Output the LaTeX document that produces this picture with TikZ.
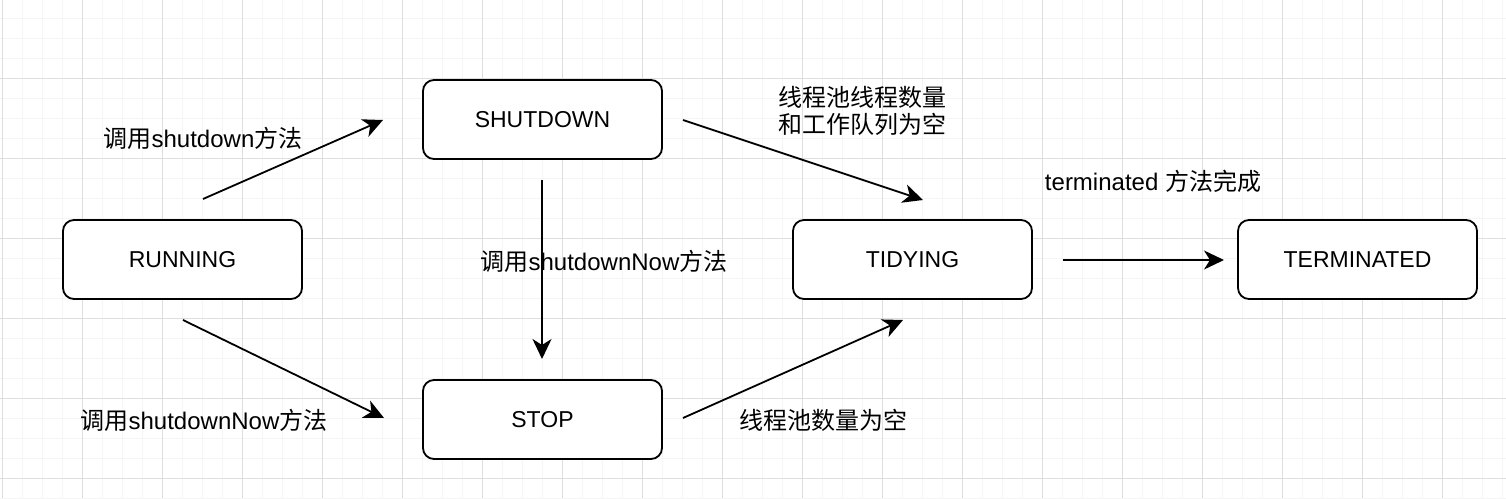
\documentclass[tikz,border=0pt]{standalone}
\usepackage{fontspec}
\setmainfont{Liberation Sans}
\newfontfamily\cjk{Noto Sans CJK SC}
\usetikzlibrary{arrows.meta}
\newcommand{\zh}[1]{{\cjk #1}}
\tikzset{
  box/.style={draw, line width=1.8pt, rounded corners=11pt, minimum width=239pt, minimum height=79pt, fill=white, inner sep=0pt, font=\fontsize{23}{28}\selectfont},
  lbl/.style={inner sep=0pt, align=center, font=\fontsize{24}{27}\selectfont},
  conn/.style={line width=1.8pt, -{Stealth[length=20pt, width=19pt, inset=6pt]}},
  minorgrid/.style={line width=1pt, draw={rgb,255:red,245;green,245;blue,245}},
  majorgrid/.style={line width=1pt, draw={rgb,255:red,222;green,222;blue,222}}
}
\begin{document}
\begin{tikzpicture}[x=1pt, y=-1pt]
\useasboundingbox (0,0) rectangle (1506,498);
\fill[white] (0,0) rectangle (1506,498);
% grid
\foreach \i in {0,...,75} { \draw[minorgrid] (2.5+20*\i,0) -- (2.5+20*\i,498); }
\foreach \j in {0,...,24} { \draw[minorgrid] (0,18.5+20*\j) -- (1506,18.5+20*\j); }
\foreach \i in {0,...,18} { \draw[majorgrid] (2.5+80*\i,0) -- (2.5+80*\i,498); }
\foreach \j in {0,...,5} { \draw[majorgrid] (0,78.5+80*\j) -- (1506,78.5+80*\j); }
% boxes
\node[box] (running) at (182.5,259.5) {RUNNING};
\node[box] (shutdown) at (542.5,119.5) {SHUTDOWN};
\node[box] (stop) at (542.5,419.5) {STOP};
\node[box] (tidying) at (912.5,259.5) {TIDYING};
\node[box] (terminated) at (1357.5,259.5) {TERMINATED};
% arrow endpoints
\coordinate (a1) at (203,199); \coordinate (b1) at (383,120);
\coordinate (a2) at (183,320); \coordinate (b2) at (384,418);
\coordinate (a3) at (542,180); \coordinate (b3) at (542,359);
\coordinate (a4) at (683,120); \coordinate (b4) at (923,200);
\coordinate (a5) at (683,418); \coordinate (b5) at (903,320);
\coordinate (a6) at (1063,260); \coordinate (b6) at (1224,260);
\draw[conn] (a1) -- (b1);
\draw[conn] (a2) -- (b2);
\draw[conn] (a3) -- (b3);
\draw[conn] (a4) -- (b4);
\draw[conn] (a5) -- (b5);
\draw[conn] (a6) -- (b6);
% labels
\node[lbl] (l1) at (203,138) {\zh{调用}shutdown\zh{方法}};
\node[lbl] (l2) at (204,420) {\zh{调用}shutdownNow\zh{方法}};
\node[lbl] (l3) at (604,261) {\zh{调用}shutdownNow\zh{方法}};
\node[lbl] (l4) at (862,111) {\zh{线程池线程数量}\\\zh{和工作队列为空}};
\node[lbl] (l5) at (1153,181) {terminated \zh{方法完成}};
\node[lbl] (l6) at (823,420) {\zh{线程池数量为空}};
\end{tikzpicture}
\end{document}
